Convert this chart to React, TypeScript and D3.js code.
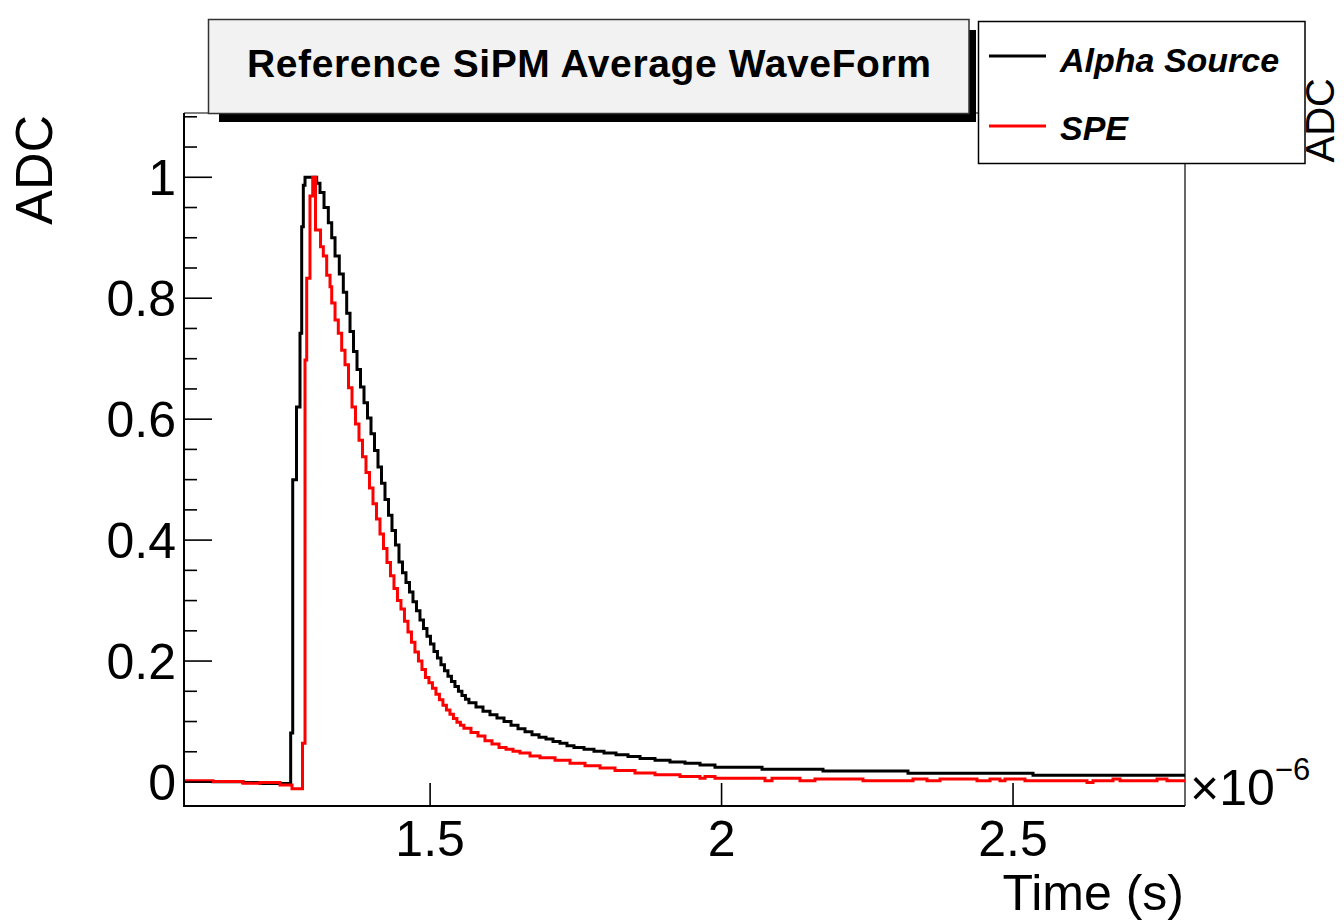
import React from "react";
import * as d3 from "d3";

// ---- data (time in microseconds, value = normalised ADC) ----
// Each entry: step starts at time T[i] with value V[i]; runs until next time
const alphaT = [1.0778, 1.1275, 1.179, 1.2082, 1.2608, 1.2643, 1.2708, 1.2768, 1.2797, 1.2825, 1.2854,
  1.3054, 1.3111, 1.318, 1.3254, 1.3312, 1.3369, 1.3442, 1.3511, 1.3569, 1.3626,
  1.3686, 1.3746, 1.3806, 1.3866, 1.3926, 1.3986, 1.4046, 1.4106, 1.4166, 1.4226,
  1.4286, 1.4346, 1.4406, 1.4466, 1.4526, 1.4586, 1.4646, 1.4706, 1.4766, 1.4826,
  1.4886, 1.4946, 1.5006, 1.5066, 1.5126, 1.5186, 1.5246, 1.5306, 1.5366, 1.5426,
  1.5486, 1.5546, 1.5606, 1.5666,
  1.5787, 1.5907, 1.6027, 1.6147, 1.6268, 1.6388, 1.6508, 1.6628, 1.6748, 1.6868,
  1.6988, 1.7108, 1.7228, 1.7348, 1.7468,
  1.764, 1.7811, 1.7983, 1.8189, 1.8395, 1.8601, 1.8858, 1.9115, 1.9373, 1.963,
  1.9887, 2.0694, 2.174, 2.3198, 2.5343];
const alphaV = [0.001, 0.0005, -0.001, -0.0025, 0.081, 0.5, 0.62, 0.742, 0.918, 0.987, 1.0,
  0.99, 0.975, 0.95, 0.925, 0.9, 0.87, 0.84, 0.81, 0.775, 0.745,
  0.712, 0.682, 0.653, 0.627, 0.602, 0.576, 0.548, 0.521, 0.494, 0.467,
  0.441, 0.416, 0.392, 0.364, 0.346, 0.33, 0.314, 0.298, 0.283, 0.268,
  0.254, 0.241, 0.228, 0.216, 0.205, 0.194, 0.184, 0.175, 0.166, 0.158,
  0.15, 0.143, 0.137, 0.131,
  0.124, 0.117, 0.111, 0.106, 0.1, 0.094, 0.088, 0.083, 0.078, 0.074,
  0.071, 0.067, 0.064, 0.06, 0.057,
  0.054, 0.051, 0.048, 0.045, 0.042, 0.039, 0.036, 0.033, 0.031, 0.028,
  0.0243, 0.021, 0.018, 0.0144, 0.011];

const speT = [1.0778, 1.1275, 1.179, 1.2082, 1.2425, 1.2631, 1.2811, 1.2854, 1.2883, 1.2939, 1.2986,
  1.3034, 1.312, 1.3168, 1.3226, 1.3283, 1.3312, 1.3369, 1.3425, 1.3483, 1.354,
  1.36, 1.366, 1.372, 1.378, 1.384, 1.39, 1.396, 1.402, 1.408, 1.414,
  1.42, 1.426, 1.432, 1.438, 1.444, 1.45, 1.456, 1.462, 1.468, 1.474,
  1.48, 1.486, 1.492, 1.498, 1.504, 1.51, 1.516, 1.522, 1.528, 1.534,
  1.54, 1.546, 1.552, 1.558,
  1.5701, 1.5821, 1.5941, 1.6061, 1.6182, 1.6302, 1.6422, 1.6542, 1.6714, 1.6885,
  1.7143, 1.74, 1.7657, 1.7915, 1.8172, 1.8515, 1.8858, 1.9287,
  1.963, 1.9716, 1.9887, 2.0745, 2.0865, 2.1345, 2.1602, 2.2426, 2.3284, 2.3524,
  2.3747, 2.4382, 2.4605, 2.4776, 2.4862, 2.5205, 2.6269, 2.6372, 2.6715, 2.6835,
  2.747, 2.7641];
const speV = [0.002, 0.001, -0.002, -0.001, -0.005, -0.011, 0.064, 0.698, 0.833, 0.969, 1.0,
  0.913, 0.885, 0.87, 0.838, 0.819, 0.792, 0.764, 0.742, 0.714, 0.69,
  0.652, 0.62, 0.592, 0.565, 0.538, 0.512, 0.486, 0.46, 0.435, 0.41,
  0.386, 0.363, 0.341, 0.32, 0.3, 0.286, 0.266, 0.248, 0.231, 0.215,
  0.2, 0.186, 0.173, 0.164, 0.155, 0.145, 0.136, 0.127, 0.119, 0.112,
  0.105, 0.099, 0.094, 0.089,
  0.082, 0.076, 0.068, 0.063, 0.057, 0.054, 0.051, 0.048, 0.043, 0.04,
  0.036, 0.031, 0.027, 0.023, 0.019, 0.015, 0.012, 0.009,
  0.006, 0.009, 0.006, 0.002, 0.006, 0.002, 0.005, 0.002, 0.005, 0.002,
  0.005, 0.002, 0.005, 0.002, 0.005, 0.002, -0.001, 0.002, 0.005, 0.002,
  0.005, 0.002];

const xDomain = [1.0778, 2.795];
const yDomain = [-0.0397, 1.1063];
const xTicks = [1.5, 2, 2.5];
const xTickLabels = ["1.5", "2", "2.5"];
const yTicks = [0, 0.2, 0.4, 0.6, 0.8, 1];
const yTickLabels = ["0", "0.2", "0.4", "0.6", "0.8", "1"];
const yMinorTicks = [0.05, 0.1, 0.15, 0.25, 0.3, 0.35, 0.45, 0.5, 0.55, 0.65, 0.7, 0.75, 0.85, 0.9, 0.95, 1.05, 1.1];

const seriesNames = ["Alpha Source", "SPE"];
const seriesColors = ["#000000", "#ff0000"];
const titleText = "Reference SiPM Average WaveForm";

const FONT = "'Liberation Sans', Arial, Helvetica, sans-serif";

export default function App() {
  const W = 1344, H = 922;
  const left = 184, right = 1185, top = 113, bottom = 806;
  const x = d3.scaleLinear().domain(xDomain).range([left, right]);
  const y = d3.scaleLinear().domain(yDomain).range([bottom, top]);

  const mk = (T: number[], V: number[]) => {
    const pts: [number, number][] = T.map((t, i) => [t, V[i]]);
    pts.push([xDomain[1], V[V.length - 1]]);
    return d3.line<[number, number]>().x(d => x(d[0])).y(d => y(d[1])).curve(d3.curveStepAfter)(pts) || "";
  };
  const paths = [mk(alphaT, alphaV), mk(speT, speV)];

  return (
    <svg width={W} height={H} style={{ position: "absolute", left: 0, top: 0, background: "#fff" }} fontFamily={FONT}>
      <rect x={0} y={0} width={W} height={H} fill="#fff" />
      <defs>
        <clipPath id="frame">
          <rect x={left} y={top} width={right - left} height={bottom - top} />
        </clipPath>
      </defs>
      {/* frame */}
      <line x1={left} y1={top} x2={right} y2={top} stroke="#000" strokeWidth={1.2} />
      <line x1={right} y1={top} x2={right} y2={bottom} stroke="#000" strokeWidth={1.2} />
      {/* curves */}
      <g clipPath="url(#frame)">
        {paths.map((p, i) => (
          <path key={i} d={p} fill="none" stroke={seriesColors[i]} strokeWidth={3} strokeLinejoin="miter" />
        ))}
      </g>
      {/* axes */}
      <line x1={left} y1={top} x2={left} y2={bottom + 1} stroke="#000" strokeWidth={2} />
      <line x1={left - 1} y1={bottom} x2={right} y2={bottom} stroke="#000" strokeWidth={2} />
      {yTicks.map((t, i) => (
        <g key={"yt" + i}>
          <line x1={left} x2={left + 28} y1={y(t)} y2={y(t)} stroke="#000" strokeWidth={1.6} />
          <text x={176} y={y(t) + 18} fontSize={50} textAnchor="end">{yTickLabels[i]}</text>
        </g>
      ))}
      {yMinorTicks.map((t, i) => (
        <line key={"ym" + i} x1={left} x2={left + 13} y1={y(t)} y2={y(t)} stroke="#000" strokeWidth={1.6} />
      ))}
      {xTicks.map((t, i) => (
        <g key={"xt" + i}>
          <line x1={x(t)} x2={x(t)} y1={bottom} y2={bottom - 23} stroke="#000" strokeWidth={1.6} />
          <text x={x(t)} y={856} fontSize={50} textAnchor="middle">{xTickLabels[i]}</text>
        </g>
      ))}
      {/* axis titles */}
      <text x={1184} y={910} fontSize={50} textAnchor="end">Time (s)</text>
      <text transform="translate(52,115) rotate(-90)" fontSize={52} textAnchor="end">ADC</text>
      <text transform="translate(1334,78) rotate(-90)" fontSize={40} textAnchor="end">ADC</text>
      <text x={1190} y={805} fontSize={50}>
        ×10<tspan fontSize={31} dy={-25}>−6</tspan>
      </text>
      {/* title box */}
      <rect x={219} y={30} width={757} height={92} fill="#000" />
      <rect x={208.5} y={19.5} width={760.5} height={94} fill="#f2f2f2" stroke="#333" strokeWidth={1.5} />
      <text x={589} y={77} fontSize={39} fontWeight="bold" textAnchor="middle" textLength={684} lengthAdjust="spacing">{titleText}</text>
      {/* legend */}
      <rect x={978.5} y={21.5} width={326.5} height={142} fill="#fff" stroke="#000" strokeWidth={1.5} />
      {seriesNames.map((n, i) => (
        <g key={"lg" + i}>
          <line x1={989} x2={1046} y1={56 + i * 70} y2={56 + i * 70} stroke={seriesColors[i]} strokeWidth={3} />
          <text x={1060} y={72 + i * 68} fontSize={34} fontWeight="bold" fontStyle="italic">{n}</text>
        </g>
      ))}
    </svg>
  );
}
